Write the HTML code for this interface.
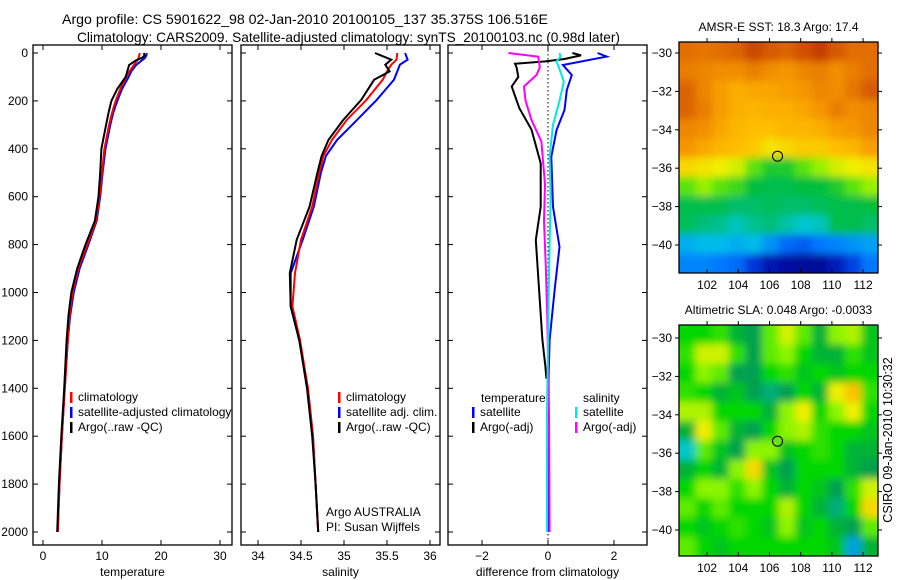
<!DOCTYPE html>
<html><head><meta charset="utf-8"><style>
body{margin:0;background:#fff}
svg{display:block;font-family:"Liberation Sans",sans-serif;font-size:12px}
</style></head><body>
<svg id="fig" width="900" height="580" viewBox="0 0 900 580">
<text x="62" y="24" font-size="14" textLength="486" lengthAdjust="spacingAndGlyphs">Argo profile: CS 5901622_98 02-Jan-2010 20100105_137 35.375S 106.516E</text>
<text x="77" y="42" font-size="14" textLength="543" lengthAdjust="spacingAndGlyphs">Climatology: CARS2009. Satellite-adjusted climatology: synTS_20100103.nc (0.98d later)</text>
<defs>
<clipPath id="c1"><rect x="33" y="45" width="207" height="500"/></clipPath>
<clipPath id="c2"><rect x="241" y="45" width="199" height="500"/></clipPath>
<clipPath id="c3"><rect x="448" y="45" width="199" height="500"/></clipPath>
<clipPath id="cm1"><rect x="679" y="42" width="199" height="231"/></clipPath>
<clipPath id="cm2"><rect x="679" y="325" width="199" height="231"/></clipPath>
<filter id="bl" x="-5%" y="-5%" width="110%" height="110%"><feGaussianBlur stdDeviation="4"/></filter>
</defs>
<g id="g1"></g>
<g id="g2"></g>
<g id="g3"></g>
<g id="gm1"></g>
<g id="gm2"></g>
<text x="0" y="0" transform="translate(892,440) rotate(-90)" text-anchor="middle" font-size="12.5">CSIRO 09-Jan-2010 10:30:32</text>
</svg>
<script>
// temperature profile
const tDepth=[0,10,20,30,50,75,100,150,200,250,300,400,500,600,700,800,900,1000,1100,1200,1400,1600,1800,2000];
const tClim=[16.4,16.3,16.2,16.0,15.4,14.7,14.1,13.1,12.3,11.7,11.2,10.4,10.0,9.6,9.0,7.5,6.0,5.0,4.5,4.2,3.7,3.2,2.8,2.5];
const tSat=[17.6,17.5,17.3,16.8,15.8,15.0,14.5,13.4,12.6,11.9,11.4,10.6,10.1,9.7,9.1,7.7,6.2,5.2,4.6,4.2,3.7,3.2,2.8,2.5];
const tArgo=[17.1,17.2,16.8,15.8,14.6,14.3,14.0,12.6,11.6,11.1,10.7,9.9,9.7,9.4,8.8,7.2,5.8,4.8,4.3,4.0,3.6,3.1,2.7,2.4];
// salinity profile
const sDepth=[0,28,49,77,112,196,280,363,430,502,641,780,919,1058,1200,1400,1600,1800,2000];
const sClim=[35.62,35.61,35.55,35.50,35.45,35.26,35.03,34.86,34.76,34.71,34.63,34.50,34.43,34.40,34.49,34.58,34.64,34.67,34.70];
const sSat=[35.71,35.74,35.65,35.62,35.58,35.38,35.15,34.92,34.79,34.73,34.65,34.52,34.38,34.38,34.48,34.58,34.64,34.67,34.70];
const sArgo=[35.36,35.55,35.48,35.53,35.35,35.20,34.99,34.82,34.74,34.69,34.60,34.45,34.37,34.38,34.48,34.57,34.63,34.67,34.70];
// differences
const dTsatDepth=[0,15,50,92,155,238,321,433,642,809,990,1198,1340,2000];
const dTsat=[1.5,1.78,0.45,0.72,0.57,0.5,0.26,0.1,0.15,0.35,0.2,0.05,0.02,0.0];
const dTargoDepth=[0,10,25,35,45,60,100,140,230,320,460,642,781,990,1198,1310,1360];
const dTargo=[0.74,1.0,0.5,-0.08,-1.0,-0.95,-0.9,-1.1,-0.87,-0.5,-0.22,-0.22,-0.37,-0.27,-0.17,-0.08,-0.05];
const dSsatDepth=[0,15,35,60,120,200,300,430,600,800,1000,1500,2000];
const dSsat=[0.35,0.38,0.25,0.33,0.48,0.35,0.15,0.05,0.08,0.05,0.02,-0.03,-0.03];
const dSargoDepth=[0,15,40,60,92,140,200,280,370,550,700,880,1100,1500,2000];
const dSargo=[-1.2,-0.3,-0.27,-0.25,-0.35,-0.73,-0.68,-0.5,-0.2,-0.09,-0.12,-0.07,-0.02,0.03,0.05];
const depthTicks=[0,200,400,600,800,1000,1200,1400,1600,1800,2000];
const tTicks=[0,10,20,30];
const sTicks=[34,34.5,35,35.5,36];
const dTicks=[-2,0,2];
// SST map (deg C), rows -30..-41, cols 100.5..112.5
const sstGrid=[
[18.9,18.8,18.9,19.0,19.3,19.1,19.0,19.2,19.4,19.1,18.9,18.9],
[18.7,18.6,18.5,18.5,18.7,18.5,18.4,18.6,18.7,18.5,18.7,18.9],
[19.0,18.6,18.3,18.1,18.2,18.2,18.3,18.4,18.6,18.5,18.8,19.1],
[19.0,18.7,18.3,18.1,18.0,18.1,18.1,18.2,18.4,18.7,18.5,18.6],
[18.6,18.5,18.2,18.0,17.9,17.9,18.0,18.0,18.1,18.3,18.4,18.6],
[18.4,18.2,18.0,17.9,17.8,17.6,17.7,17.8,17.8,17.9,18.0,18.3],
[17.7,17.6,17.5,17.4,17.0,16.8,16.8,17.0,17.2,17.4,17.5,17.6],
[17.0,17.2,17.0,16.9,16.7,16.6,16.6,16.7,16.7,16.8,17.0,17.2],
[16.6,16.6,16.6,16.4,16.4,16.5,16.4,16.4,16.5,16.6,16.6,16.7],
[16.5,16.3,16.2,16.0,16.2,16.3,16.1,15.9,16.0,16.6,16.6,16.4],
[15.6,15.7,15.7,15.6,15.7,15.4,15.1,15.0,15.2,15.3,15.4,15.5],
[15.3,15.3,15.2,15.1,14.7,14.3,14.2,14.1,14.1,14.4,14.8,15.2]];
const slaGrid=[
[0,0,0.1,-0.2,-0.3,0.2,0.5,0.2,-0.2,0.3,0.4,-0.1],
[0.1,0.5,0.5,0.1,-0.3,0.2,0.3,0,-0.2,-0.2,0.1,-0.1],
[0,0.3,0.2,-0.3,-0.3,0,0.1,-0.1,0,-0.1,0,0],
[0.1,0,-0.2,-0.1,-0.3,-0.4,-0.3,0,-0.2,0.6,0.8,0.1],
[0.4,0.4,0,0,0,-0.2,0.3,0.6,0,0.3,0.6,0],
[-0.2,0.6,0.2,-0.2,-0.3,0,0.3,0.4,0.1,0,0,-0.1],
[-0.6,0.2,-0.1,-0.3,0.3,0.3,-0.1,0,0.1,0,-0.2,-0.2],
[-0.2,0,-0.2,0.3,0.7,-0.1,-0.3,0,0,0,-0.2,-0.3],
[0,0.3,0.3,0.1,0.3,0,-0.2,0,-0.1,-0.3,0.1,0.5],
[0.2,0,0.2,0,0,0,0.4,0,-0.2,-0.4,0,0.7],
[0,-0.1,0,0.1,0,-0.1,0.3,-0.1,0,-0.2,-0.3,0.2],
[0.2,0,-0.1,0,0,0,0,0,0,-0.1,-0.7,-0.2]];
const lonTicks=[102,104,106,108,110,112];
const latTicks=[-30,-32,-34,-36,-38,-40];
const argoLon=106.516, argoLat=-35.375;

const NS='http://www.w3.org/2000/svg';
function mk(tag,attrs,parent,txt){const e=document.createElementNS(NS,tag);for(const k in attrs)e.setAttribute(k,attrs[k]);if(txt!==undefined)e.textContent=txt;parent.appendChild(e);return e;}
const yD=d=>53+d*0.2395;
const xT=v=>43+v*5.9;
const xS=v=>258+(v-34)*86;
const xDf=v=>548+v*33;

function panel(g,x0,w,xs,ticks,label,xlabel,clip,yl){
  const fr=mk('rect',{x:x0,y:45,width:w,height:500,fill:'none',stroke:'#000','stroke-width':1.3},g);
  
  depthTicks.forEach(d=>{const y=yD(d);
    mk('line',{x1:x0,x2:x0+5,y1:y,y2:y,stroke:'#000'},g);mk('line',{x1:x0+w-5,x2:x0+w,y1:y,y2:y,stroke:'#000'},g);
    if(yl){const t=mk('text',{x:x0-5,y:y+4,'text-anchor':'end'},g,String(d));}
  });
  ticks.forEach(v=>{const x=xs(v);
    mk('line',{x1:x,x2:x,y1:45,y2:50,stroke:'#000'},g);mk('line',{x1:x,x2:x,y1:540,y2:545,stroke:'#000'},g);
    const t=mk('text',{x:x,y:560,'text-anchor':'middle'},g,label(v));});
  const xl=mk('text',{x:x0+w/2,y:576,'text-anchor':'middle'},g,xlabel);
}
function line(g,xs,vals,depths,color,name,clip){
  const pts=vals.map((v,i)=>xs(v).toFixed(1)+','+yD(depths[i]).toFixed(1)).join(' ');
  const p=mk('polyline',{points:pts,fill:'none',stroke:color,'stroke-width':2,'clip-path':'url(#'+clip+')'},g);
  
}
function leg(g,x,y,color,text,clip){
  if(color)mk('rect',{x:x,y:y-9,width:2.5,height:11,fill:color},g);
  const t=mk('text',{x:x+8,y:y},g,text);
  if(clip)t.setAttribute('clip-path','url(#'+clip+')');
  
}
const g1=document.getElementById('g1'),g2=document.getElementById('g2'),g3=document.getElementById('g3');
panel(g1,33,199,xT,tTicks,String,'temperature','c1',true);
line(g1,xT,tSat,tDepth,'#0000ff','temp-satellite-line','c1');
line(g1,xT,tClim,tDepth,'#ff0000','temp-climatology-line','c1');
line(g1,xT,tArgo,tDepth,'#000','temp-argo-line','c1');
leg(g1,70,401,'#ff0000','climatology');
leg(g1,70,416,'#0000ff','satellite-adjusted climatology','c1');
leg(g1,70,431,'#000','Argo(..raw -QC)');

panel(g2,241,199,xS,sTicks,String,'salinity','c2',false);
line(g2,xS,sSat,sDepth,'#0000ff','sal-satellite-line','c2');
line(g2,xS,sClim,sDepth,'#ff0000','sal-climatology-line','c2');
line(g2,xS,sArgo,sDepth,'#000','sal-argo-line','c2');
leg(g2,338,401,'#ff0000','climatology');
leg(g2,338,416,'#0000ff','satellite adj. clim.');
leg(g2,338,431,'#000','Argo(..raw -QC)');
let t=mk('text',{x:326,y:516},g2,'Argo AUSTRALIA');
t=mk('text',{x:326,y:531},g2,'PI: Susan Wijffels');

panel(g3,448,199,xDf,dTicks,v=>v<0?'\u2212'+(-v):String(v),'difference from climatology','c3',false);
mk('line',{x1:xDf(0),x2:xDf(0),y1:46,y2:544,stroke:'#000','stroke-dasharray':'1.5,2.5'},g3);
line(g3,xDf,dTargo,dTargoDepth,'#000','temp-diff-argo-line','c3');
line(g3,xDf,dTsat,dTsatDepth,'#0000ff','temp-diff-satellite-line','c3');
line(g3,xDf,dSargo,dSargoDepth,'#ff00ff','sal-diff-argo-line','c3');
line(g3,xDf,dSsat,dSsatDepth,'#00e8e8','sal-diff-satellite-line','c3');
t=mk('text',{x:481,y:402},g3,'temperature');
t=mk('text',{x:583,y:402},g3,'salinity');
leg(g3,472,416,'#0000ff','satellite');
leg(g3,472,431,'#000','Argo(-adj)');
leg(g3,575,416,'#00e8e8','satellite');
leg(g3,575,431,'#ff00ff','Argo(-adj)');

function interp(stops,v){
  if(v<=stops[0][0])return 'rgb('+stops[0][1].join(',')+')';
  for(let i=1;i<stops.length;i++){if(v<=stops[i][0]){const a=stops[i-1],b=stops[i],f=(v-a[0])/(b[0]-a[0]);
    return 'rgb('+[0,1,2].map(k=>Math.round(a[1][k]+(b[1][k]-a[1][k])*f)).join(',')+')';}}
  return 'rgb('+stops[stops.length-1][1].join(',')+')';
}
const sstStops=[[14,[0,0,140]],[14.6,[0,40,210]],[15.2,[0,120,255]],[15.8,[0,200,230]],[16.3,[0,190,120]],[16.7,[0,190,60]],[17.1,[120,240,0]],[17.5,[240,240,0]],[17.9,[255,190,0]],[18.4,[245,150,0]],[18.9,[225,110,0]],[19.5,[190,50,0]]];
const slaStops=[[-0.9,[0,90,255]],[-0.6,[0,200,200]],[-0.3,[0,160,80]],[0,[0,215,0]],[0.3,[140,245,0]],[0.6,[240,240,0]],[0.9,[255,170,0]]];

function map(gid,y0,h,lat30,grid,stops,clip,title,name){
  const g=document.getElementById(gid);
  const x0=679,w=199;
  const lonX=lon=>x0+(lon-100.2)*15.6;
  const latY=lat=>lat30+(-30-lat)*19.2;
  const hm=mk('g',{'clip-path':'url(#'+clip+')'},g);
  const inner=mk('g',{filter:'url(#bl)'},hm);
  const cw=w/12,chh=h/12;
  grid.forEach((row,r)=>row.forEach((v,c)=>{
    const cell=mk('rect',{x:x0+c*cw-(c===0?12:0),y:y0+r*chh-(r===0?12:0),width:cw+(c===0||c===11?12:0)+0.5,height:chh+(r===0||r===11?12:0)+0.5,fill:interp(stops,v)},inner);
    
  }));
  const fr=mk('rect',{x:x0,y:y0,width:w,height:h,fill:'none',stroke:'#000','stroke-width':1.3},g);
  
  lonTicks.forEach(l=>{const x=lonX(l);mk('line',{x1:x,x2:x,y1:y0+h-4,y2:y0+h,stroke:'#000'},g);mk('line',{x1:x,x2:x,y1:y0,y2:y0-4,stroke:'#000'},g);
    const tt=mk('text',{x:x,y:y0+h+16,'text-anchor':'middle'},g,String(l));});
  latTicks.forEach(l=>{const y=latY(l);mk('line',{x1:x0-4,x2:x0,y1:y,y2:y,stroke:'#000'},g);mk('line',{x1:x0+w,x2:x0+w+4,y1:y,y2:y,stroke:'#000'},g);
    const tt=mk('text',{x:x0-7,y:y+4,'text-anchor':'end'},g,'\u2212'+(-l));});
  const ci=mk('circle',{cx:lonX(argoLon),cy:latY(argoLat),r:5,fill:'none',stroke:'#000','stroke-width':1},g);
  
  const tt=mk('text',{x:x0+w/2,y:y0-11,'text-anchor':'middle'},g,title);
}
map('gm1',42,231,53,sstGrid,sstStops,'cm1','AMSR-E SST: 18.3 Argo: 17.4','sst-map');
map('gm2',325,231,338,slaGrid,slaStops,'cm2','Altimetric SLA: 0.048 Argo: -0.0033','sla-map');
</script>
</body></html>
